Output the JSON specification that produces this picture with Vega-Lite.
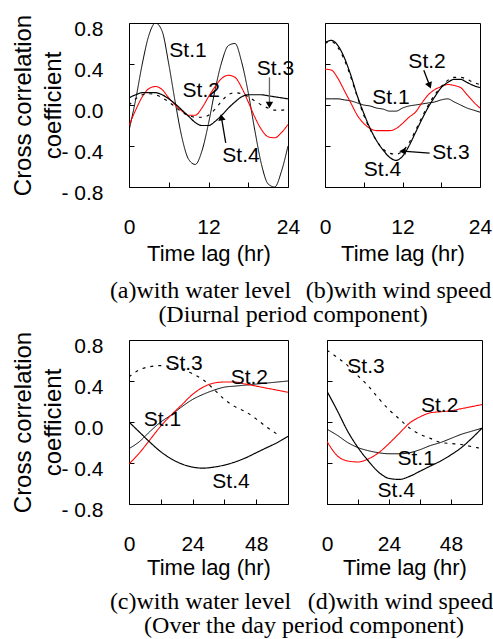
{
  "$schema": "https://vega.github.io/schema/vega-lite/v6.json",
  "background": "white",
  "padding": {"left": 10, "top": 13, "right": 0, "bottom": 0},
  "config": {
    "font": "Liberation Sans",
    "view": {"stroke": "#000", "strokeWidth": 1},
    "axis": {"grid": false, "domain": false, "tickColor": "#000", "tickSize": -5, "tickWidth": 1, "labelColor": "#000", "labelFont": "Liberation Sans", "labelFontSize": 21, "labelFlush": false, "labelOverlap": false, "labelBound": false, "titleFont": "Liberation Sans", "titleFontWeight": "normal", "titleColor": "#000"},
    "axisX": {"labelPadding": 34, "titleFontSize": 22, "titlePadding": 6},
    "axisY": {"labelPadding": 31, "labelOffset": 6, "titleFontSize": 24, "titleLineHeight": 30, "titlePadding": -4.5},
    "title": {"font": "Liberation Serif", "fontSize": 24, "fontWeight": "normal", "color": "#000", "anchor": "middle", "frame": "group"},
    "text": {"font": "Liberation Sans", "fontSize": 21, "color": "#000"}
  },
  "datasets": {
    "a": [
      {"st":"St.1","hr":0,"r":-0.25},{"st":"St.1","hr":1,"r":0.05},{"st":"St.1","hr":2,"r":0.4},{"st":"St.1","hr":3,"r":0.68},{"st":"St.1","hr":4,"r":0.8},{"st":"St.1","hr":5,"r":0.72},{"st":"St.1","hr":6,"r":0.4},{"st":"St.1","hr":7,"r":0.02},{"st":"St.1","hr":8,"r":-0.32},{"st":"St.1","hr":9,"r":-0.53},{"st":"St.1","hr":10,"r":-0.58},{"st":"St.1","hr":11,"r":-0.45},{"st":"St.1","hr":12,"r":-0.18},{"st":"St.1","hr":13,"r":0.15},{"st":"St.1","hr":14,"r":0.42},{"st":"St.1","hr":15,"r":0.58},{"st":"St.1","hr":16,"r":0.6},{"st":"St.1","hr":17,"r":0.42},{"st":"St.1","hr":18,"r":0.12},{"st":"St.1","hr":19,"r":-0.25},{"st":"St.1","hr":20,"r":-0.58},{"st":"St.1","hr":21,"r":-0.77},{"st":"St.1","hr":22,"r":-0.8},{"st":"St.1","hr":23,"r":-0.65},{"st":"St.1","hr":24,"r":-0.4},
      {"st":"St.2","hr":0,"r":-0.2},{"st":"St.2","hr":1,"r":-0.05},{"st":"St.2","hr":2,"r":0.08},{"st":"St.2","hr":3,"r":0.16},{"st":"St.2","hr":4,"r":0.18},{"st":"St.2","hr":5,"r":0.15},{"st":"St.2","hr":6,"r":0.07},{"st":"St.2","hr":7,"r":0.0},{"st":"St.2","hr":8,"r":-0.06},{"st":"St.2","hr":9,"r":-0.1},{"st":"St.2","hr":10,"r":-0.1},{"st":"St.2","hr":11,"r":-0.03},{"st":"St.2","hr":12,"r":0.08},{"st":"St.2","hr":13,"r":0.18},{"st":"St.2","hr":14,"r":0.26},{"st":"St.2","hr":15,"r":0.29},{"st":"St.2","hr":16,"r":0.27},{"st":"St.2","hr":17,"r":0.17},{"st":"St.2","hr":18,"r":0.03},{"st":"St.2","hr":19,"r":-0.12},{"st":"St.2","hr":20,"r":-0.24},{"st":"St.2","hr":21,"r":-0.31},{"st":"St.2","hr":22,"r":-0.32},{"st":"St.2","hr":23,"r":-0.27},{"st":"St.2","hr":24,"r":-0.19},
      {"st":"St.3","hr":0,"r":0.0},{"st":"St.3","hr":1,"r":0.06},{"st":"St.3","hr":2,"r":0.1},{"st":"St.3","hr":3,"r":0.11},{"st":"St.3","hr":4,"r":0.1},{"st":"St.3","hr":5,"r":0.07},{"st":"St.3","hr":6,"r":0.03},{"st":"St.3","hr":7,"r":-0.02},{"st":"St.3","hr":8,"r":-0.07},{"st":"St.3","hr":9,"r":-0.1},{"st":"St.3","hr":10,"r":-0.12},{"st":"St.3","hr":11,"r":-0.12},{"st":"St.3","hr":12,"r":-0.1},{"st":"St.3","hr":13,"r":-0.04},{"st":"St.3","hr":14,"r":0.04},{"st":"St.3","hr":15,"r":0.1},{"st":"St.3","hr":16,"r":0.12},{"st":"St.3","hr":17,"r":0.11},{"st":"St.3","hr":18,"r":0.08},{"st":"St.3","hr":19,"r":0.04},{"st":"St.3","hr":20,"r":0.0},{"st":"St.3","hr":21,"r":-0.03},{"st":"St.3","hr":22,"r":-0.05},{"st":"St.3","hr":23,"r":-0.05},{"st":"St.3","hr":24,"r":-0.04},
      {"st":"St.4","hr":0,"r":0.07},{"st":"St.4","hr":1,"r":0.1},{"st":"St.4","hr":2,"r":0.12},{"st":"St.4","hr":3,"r":0.12},{"st":"St.4","hr":4,"r":0.12},{"st":"St.4","hr":5,"r":0.1},{"st":"St.4","hr":6,"r":0.06},{"st":"St.4","hr":7,"r":0.01},{"st":"St.4","hr":8,"r":-0.05},{"st":"St.4","hr":9,"r":-0.11},{"st":"St.4","hr":10,"r":-0.17},{"st":"St.4","hr":11,"r":-0.2},{"st":"St.4","hr":12,"r":-0.2},{"st":"St.4","hr":13,"r":-0.16},{"st":"St.4","hr":14,"r":-0.1},{"st":"St.4","hr":15,"r":-0.03},{"st":"St.4","hr":16,"r":0.03},{"st":"St.4","hr":17,"r":0.08},{"st":"St.4","hr":18,"r":0.1},{"st":"St.4","hr":19,"r":0.1},{"st":"St.4","hr":20,"r":0.1},{"st":"St.4","hr":21,"r":0.09},{"st":"St.4","hr":22,"r":0.08},{"st":"St.4","hr":23,"r":0.07},{"st":"St.4","hr":24,"r":0.06}
    ],
    "b": [
      {"st":"St.1","hr":0,"r":0.06},{"st":"St.1","hr":1,"r":0.06},{"st":"St.1","hr":2,"r":0.06},{"st":"St.1","hr":3,"r":0.05},{"st":"St.1","hr":4,"r":0.04},{"st":"St.1","hr":5,"r":0.02},{"st":"St.1","hr":6,"r":0.0},{"st":"St.1","hr":7,"r":-0.01},{"st":"St.1","hr":8,"r":-0.03},{"st":"St.1","hr":9,"r":-0.04},{"st":"St.1","hr":10,"r":-0.06},{"st":"St.1","hr":11,"r":-0.06},{"st":"St.1","hr":12,"r":-0.03},{"st":"St.1","hr":13,"r":-0.01},{"st":"St.1","hr":14,"r":0.0},{"st":"St.1","hr":15,"r":0.01},{"st":"St.1","hr":16,"r":0.02},{"st":"St.1","hr":17,"r":0.03},{"st":"St.1","hr":18,"r":0.05},{"st":"St.1","hr":19,"r":0.06},{"st":"St.1","hr":20,"r":0.03},{"st":"St.1","hr":21,"r":0.0},{"st":"St.1","hr":22,"r":-0.03},{"st":"St.1","hr":23,"r":-0.05},{"st":"St.1","hr":24,"r":-0.07},
      {"st":"St.2","hr":0,"r":0.35},{"st":"St.2","hr":1,"r":0.34},{"st":"St.2","hr":2,"r":0.26},{"st":"St.2","hr":3,"r":0.14},{"st":"St.2","hr":4,"r":0.02},{"st":"St.2","hr":5,"r":-0.1},{"st":"St.2","hr":6,"r":-0.18},{"st":"St.2","hr":7,"r":-0.23},{"st":"St.2","hr":8,"r":-0.25},{"st":"St.2","hr":9,"r":-0.25},{"st":"St.2","hr":10,"r":-0.25},{"st":"St.2","hr":11,"r":-0.23},{"st":"St.2","hr":12,"r":-0.18},{"st":"St.2","hr":13,"r":-0.12},{"st":"St.2","hr":14,"r":-0.07},{"st":"St.2","hr":15,"r":0.02},{"st":"St.2","hr":16,"r":0.1},{"st":"St.2","hr":17,"r":0.15},{"st":"St.2","hr":18,"r":0.18},{"st":"St.2","hr":19,"r":0.2},{"st":"St.2","hr":20,"r":0.19},{"st":"St.2","hr":21,"r":0.17},{"st":"St.2","hr":22,"r":0.1},{"st":"St.2","hr":23,"r":0.03},{"st":"St.2","hr":24,"r":-0.03},
      {"st":"St.3","hr":0,"r":0.6},{"st":"St.3","hr":1,"r":0.62},{"st":"St.3","hr":2,"r":0.56},{"st":"St.3","hr":3,"r":0.44},{"st":"St.3","hr":4,"r":0.27},{"st":"St.3","hr":5,"r":0.08},{"st":"St.3","hr":6,"r":-0.1},{"st":"St.3","hr":7,"r":-0.24},{"st":"St.3","hr":8,"r":-0.35},{"st":"St.3","hr":9,"r":-0.43},{"st":"St.3","hr":10,"r":-0.47},{"st":"St.3","hr":11,"r":-0.48},{"st":"St.3","hr":12,"r":-0.45},{"st":"St.3","hr":13,"r":-0.37},{"st":"St.3","hr":14,"r":-0.25},{"st":"St.3","hr":15,"r":-0.12},{"st":"St.3","hr":16,"r":0.0},{"st":"St.3","hr":17,"r":0.1},{"st":"St.3","hr":18,"r":0.18},{"st":"St.3","hr":19,"r":0.24},{"st":"St.3","hr":20,"r":0.27},{"st":"St.3","hr":21,"r":0.27},{"st":"St.3","hr":22,"r":0.25},{"st":"St.3","hr":23,"r":0.22},{"st":"St.3","hr":24,"r":0.2},
      {"st":"St.4","hr":0,"r":0.61},{"st":"St.4","hr":1,"r":0.63},{"st":"St.4","hr":2,"r":0.58},{"st":"St.4","hr":3,"r":0.46},{"st":"St.4","hr":4,"r":0.29},{"st":"St.4","hr":5,"r":0.09},{"st":"St.4","hr":6,"r":-0.08},{"st":"St.4","hr":7,"r":-0.23},{"st":"St.4","hr":8,"r":-0.35},{"st":"St.4","hr":9,"r":-0.44},{"st":"St.4","hr":10,"r":-0.51},{"st":"St.4","hr":11,"r":-0.54},{"st":"St.4","hr":12,"r":-0.5},{"st":"St.4","hr":13,"r":-0.4},{"st":"St.4","hr":14,"r":-0.27},{"st":"St.4","hr":15,"r":-0.14},{"st":"St.4","hr":16,"r":-0.02},{"st":"St.4","hr":17,"r":0.08},{"st":"St.4","hr":18,"r":0.17},{"st":"St.4","hr":19,"r":0.22},{"st":"St.4","hr":20,"r":0.25},{"st":"St.4","hr":21,"r":0.25},{"st":"St.4","hr":22,"r":0.22},{"st":"St.4","hr":23,"r":0.19},{"st":"St.4","hr":24,"r":0.17}
    ],
    "c": [
      {"st":"St.1","hr":0,"r":-0.26},{"st":"St.1","hr":4,"r":-0.19},{"st":"St.1","hr":8,"r":-0.09},{"st":"St.1","hr":12,"r":0.0},{"st":"St.1","hr":16,"r":0.07},{"st":"St.1","hr":20,"r":0.15},{"st":"St.1","hr":24,"r":0.22},{"st":"St.1","hr":28,"r":0.27},{"st":"St.1","hr":32,"r":0.31},{"st":"St.1","hr":36,"r":0.34},{"st":"St.1","hr":40,"r":0.35},{"st":"St.1","hr":44,"r":0.36},{"st":"St.1","hr":48,"r":0.37},{"st":"St.1","hr":52,"r":0.38},{"st":"St.1","hr":56,"r":0.39},{"st":"St.1","hr":60,"r":0.4},
      {"st":"St.2","hr":0,"r":-0.41},{"st":"St.2","hr":4,"r":-0.3},{"st":"St.2","hr":8,"r":-0.17},{"st":"St.2","hr":12,"r":-0.04},{"st":"St.2","hr":16,"r":0.07},{"st":"St.2","hr":20,"r":0.17},{"st":"St.2","hr":24,"r":0.27},{"st":"St.2","hr":28,"r":0.34},{"st":"St.2","hr":32,"r":0.38},{"st":"St.2","hr":36,"r":0.39},{"st":"St.2","hr":40,"r":0.39},{"st":"St.2","hr":44,"r":0.37},{"st":"St.2","hr":48,"r":0.35},{"st":"St.2","hr":52,"r":0.33},{"st":"St.2","hr":56,"r":0.31},{"st":"St.2","hr":60,"r":0.29},
      {"st":"St.3","hr":0,"r":0.44},{"st":"St.3","hr":4,"r":0.51},{"st":"St.3","hr":8,"r":0.54},{"st":"St.3","hr":12,"r":0.55},{"st":"St.3","hr":16,"r":0.54},{"st":"St.3","hr":20,"r":0.51},{"st":"St.3","hr":24,"r":0.47},{"st":"St.3","hr":28,"r":0.41},{"st":"St.3","hr":32,"r":0.32},{"st":"St.3","hr":36,"r":0.22},{"st":"St.3","hr":40,"r":0.15},{"st":"St.3","hr":44,"r":0.1},{"st":"St.3","hr":48,"r":0.03},{"st":"St.3","hr":52,"r":-0.05},{"st":"St.3","hr":56,"r":-0.12},
      {"st":"St.4","hr":0,"r":0.0},{"st":"St.4","hr":4,"r":-0.1},{"st":"St.4","hr":8,"r":-0.2},{"st":"St.4","hr":12,"r":-0.29},{"st":"St.4","hr":16,"r":-0.36},{"st":"St.4","hr":20,"r":-0.41},{"st":"St.4","hr":24,"r":-0.44},{"st":"St.4","hr":28,"r":-0.45},{"st":"St.4","hr":32,"r":-0.44},{"st":"St.4","hr":36,"r":-0.42},{"st":"St.4","hr":40,"r":-0.39},{"st":"St.4","hr":44,"r":-0.35},{"st":"St.4","hr":48,"r":-0.3},{"st":"St.4","hr":52,"r":-0.25},{"st":"St.4","hr":56,"r":-0.2},{"st":"St.4","hr":60,"r":-0.14}
    ],
    "d": [
      {"st":"St.1","hr":0,"r":-0.07},{"st":"St.1","hr":4,"r":-0.13},{"st":"St.1","hr":8,"r":-0.2},{"st":"St.1","hr":12,"r":-0.25},{"st":"St.1","hr":16,"r":-0.28},{"st":"St.1","hr":20,"r":-0.3},{"st":"St.1","hr":24,"r":-0.31},{"st":"St.1","hr":28,"r":-0.31},{"st":"St.1","hr":32,"r":-0.3},{"st":"St.1","hr":36,"r":-0.27},{"st":"St.1","hr":40,"r":-0.23},{"st":"St.1","hr":44,"r":-0.2},{"st":"St.1","hr":48,"r":-0.16},{"st":"St.1","hr":52,"r":-0.12},{"st":"St.1","hr":56,"r":-0.09},{"st":"St.1","hr":60,"r":-0.06},
      {"st":"St.2","hr":0,"r":-0.19},{"st":"St.2","hr":4,"r":-0.33},{"st":"St.2","hr":8,"r":-0.38},{"st":"St.2","hr":12,"r":-0.39},{"st":"St.2","hr":16,"r":-0.36},{"st":"St.2","hr":20,"r":-0.3},{"st":"St.2","hr":24,"r":-0.21},{"st":"St.2","hr":28,"r":-0.11},{"st":"St.2","hr":32,"r":-0.01},{"st":"St.2","hr":36,"r":0.05},{"st":"St.2","hr":40,"r":0.09},{"st":"St.2","hr":44,"r":0.1},{"st":"St.2","hr":48,"r":0.11},{"st":"St.2","hr":52,"r":0.13},{"st":"St.2","hr":56,"r":0.15},{"st":"St.2","hr":60,"r":0.17},
      {"st":"St.3","hr":0,"r":0.7},{"st":"St.3","hr":4,"r":0.63},{"st":"St.3","hr":8,"r":0.55},{"st":"St.3","hr":12,"r":0.45},{"st":"St.3","hr":16,"r":0.35},{"st":"St.3","hr":20,"r":0.23},{"st":"St.3","hr":24,"r":0.12},{"st":"St.3","hr":28,"r":0.03},{"st":"St.3","hr":32,"r":-0.06},{"st":"St.3","hr":36,"r":-0.12},{"st":"St.3","hr":40,"r":-0.16},{"st":"St.3","hr":44,"r":-0.2},{"st":"St.3","hr":48,"r":-0.21},{"st":"St.3","hr":52,"r":-0.22},{"st":"St.3","hr":56,"r":-0.24},{"st":"St.3","hr":60,"r":-0.26},
      {"st":"St.4","hr":0,"r":0.3},{"st":"St.4","hr":4,"r":0.11},{"st":"St.4","hr":8,"r":-0.09},{"st":"St.4","hr":12,"r":-0.25},{"st":"St.4","hr":16,"r":-0.38},{"st":"St.4","hr":20,"r":-0.49},{"st":"St.4","hr":24,"r":-0.55},{"st":"St.4","hr":28,"r":-0.56},{"st":"St.4","hr":32,"r":-0.53},{"st":"St.4","hr":36,"r":-0.48},{"st":"St.4","hr":40,"r":-0.43},{"st":"St.4","hr":44,"r":-0.38},{"st":"St.4","hr":48,"r":-0.32},{"st":"St.4","hr":52,"r":-0.25},{"st":"St.4","hr":56,"r":-0.16},{"st":"St.4","hr":60,"r":-0.06}
    ],
    "labA": [{"t":"St.1","hr":8.9,"r":0.53},{"t":"St.2","hr":10.9,"r":0.14},{"t":"St.3","hr":22.1,"r":0.35},{"t":"St.4","hr":16.9,"r":-0.5}],
    "labB": [{"t":"St.1","hr":10.2,"r":0.07},{"t":"St.2","hr":15.8,"r":0.42},{"t":"St.3","hr":19.5,"r":-0.47},{"t":"St.4","hr":8.9,"r":-0.63}],
    "labC": [{"t":"St.3","hr":20.8,"r":0.57},{"t":"St.2","hr":45.4,"r":0.43},{"t":"St.1","hr":12.6,"r":0.02},{"t":"St.4","hr":38.5,"r":-0.59}],
    "labD": [{"t":"St.3","hr":15.1,"r":0.54},{"t":"St.2","hr":43.6,"r":0.16},{"t":"St.1","hr":34.5,"r":-0.36},{"t":"St.4","hr":26.8,"r":-0.67}]
  },
  "vconcat": [
    {
      "hconcat": [
        {
          "width": 159, "height": 164,
          "title": {"text": "(a)with water level", "orient": "bottom", "offset": 15, "dx": -8},
          "encoding": {
            "x": {"field": "hr", "type": "quantitative", "scale": {"domain": [0, 24], "nice": false}, "axis": {"values": [0, 6, 12, 18, 24], "labelExpr": "datum.value % 12 == 0 ? datum.label : ''", "title": "Time lag (hr)"}},
            "y": {"field": "r", "type": "quantitative", "scale": {"domain": [-0.8, 0.8], "nice": false}, "axis": {"values": [-0.8, -0.4, 0, 0.4, 0.8], "labelExpr": "datum.value < 0 ? '- ' + format(-datum.value, '.1f') : format(datum.value, '.1f')", "title": ["Cross correlation", "coefficient"]}}
          },
          "layer": [
            {"data": {"name": "a"}, "mark": {"type": "line", "interpolate": "monotone", "clip": true},
             "encoding": {
               "color": {"field": "st", "type": "nominal", "scale": {"domain": ["St.1", "St.2", "St.3", "St.4"], "range": ["#000000", "#ff0000", "#000000", "#000000"]}, "legend": null},
               "strokeWidth": {"field": "st", "type": "nominal", "scale": {"domain": ["St.1", "St.2", "St.3", "St.4"], "range": [1, 1.2, 2.2, 3.2]}, "legend": null},
               "strokeDash": {"field": "st", "type": "nominal", "scale": {"domain": ["St.1", "St.2", "St.3", "St.4"], "range": [[1, 0], [1, 0], [3, 5], [1, 0]]}, "legend": null}
             }},
            {"data": {"values": [{"hr": 21.2, "r": 0.27, "hr2": 21.2, "r2": 0.0}]}, "mark": {"type": "rule", "color": "#666", "strokeWidth": 1.3}, "encoding": {"x2": {"field": "hr2"}, "y2": {"field": "r2"}}},
            {"data": {"values": [{"hr": 21.2, "r": 0.0}]}, "mark": {"type": "point", "shape": "triangle-down", "filled": true, "color": "#000", "opacity": 1, "size": 55}, "encoding": {}},
            {"data": {"values": [{"hr": 14.6, "r": -0.37, "hr2": 13.95, "r2": -0.12}]}, "mark": {"type": "rule", "color": "#000", "strokeWidth": 1.3}, "encoding": {"x2": {"field": "hr2"}, "y2": {"field": "r2"}}},
            {"data": {"values": [{"hr": 13.95, "r": -0.12}]}, "mark": {"type": "point", "shape": "triangle-up", "angle": -10, "filled": true, "color": "#000", "opacity": 1, "size": 55}, "encoding": {}},
            {"data": {"name": "labA"}, "mark": {"type": "text"}, "encoding": {"text": {"field": "t"}}}
          ]
        },
        {
          "width": 155, "height": 164,
          "title": {"text": "(b)with wind speed", "orient": "bottom", "offset": 15, "dx": -4},
          "encoding": {
            "x": {"field": "hr", "type": "quantitative", "scale": {"domain": [0, 24], "nice": false}, "axis": {"values": [0, 6, 12, 18, 24], "labelExpr": "datum.value % 12 == 0 ? datum.label : ''", "title": "Time lag (hr)"}},
            "y": {"field": "r", "type": "quantitative", "scale": {"domain": [-0.8, 0.8], "nice": false}, "axis": {"values": [-0.8, -0.4, 0, 0.4, 0.8], "labels": false, "title": null}}
          },
          "layer": [
            {"data": {"name": "b"}, "mark": {"type": "line", "interpolate": "monotone", "clip": true},
             "encoding": {
               "color": {"field": "st", "type": "nominal", "scale": {"domain": ["St.1", "St.2", "St.3", "St.4"], "range": ["#000000", "#ff0000", "#000000", "#000000"]}, "legend": null},
               "strokeWidth": {"field": "st", "type": "nominal", "scale": {"domain": ["St.1", "St.2", "St.3", "St.4"], "range": [1, 1.2, 2.2, 3.2]}, "legend": null},
               "strokeDash": {"field": "st", "type": "nominal", "scale": {"domain": ["St.1", "St.2", "St.3", "St.4"], "range": [[1, 0], [1, 0], [3, 5], [1, 0]]}, "legend": null}
             }},
            {"data": {"values": [{"hr": 15.3, "r": 0.34, "hr2": 16.2, "r2": 0.19}]}, "mark": {"type": "rule", "color": "#000", "strokeWidth": 1.3}, "encoding": {"x2": {"field": "hr2"}, "y2": {"field": "r2"}}},
            {"data": {"values": [{"hr": 16.2, "r": 0.19}]}, "mark": {"type": "point", "shape": "triangle-down", "angle": -22, "filled": true, "color": "#000", "opacity": 1, "size": 55}, "encoding": {}},
            {"data": {"values": [{"hr": 16.2, "r": -0.47, "hr2": 12.0, "r2": -0.45}]}, "mark": {"type": "rule", "color": "#000", "strokeWidth": 1.3}, "encoding": {"x2": {"field": "hr2"}, "y2": {"field": "r2"}}},
            {"data": {"values": [{"hr": 12.0, "r": -0.45}]}, "mark": {"type": "point", "shape": "triangle-left", "filled": true, "color": "#000", "opacity": 1, "size": 55}, "encoding": {}},
            {"data": {"name": "labB"}, "mark": {"type": "text"}, "encoding": {"text": {"field": "t"}}}
          ]
        }
      ],
      "spacing": 37,
      "bounds": "flush",
      "title": {"text": "(Diurnal period component)", "orient": "bottom", "offset": -1, "dx": 164}
    },
    {
      "hconcat": [
        {
          "width": 159, "height": 164,
          "title": {"text": "(c)with water level", "orient": "bottom", "offset": 12, "dx": -8},
          "encoding": {
            "x": {"field": "hr", "type": "quantitative", "scale": {"domain": [0, 60], "nice": false}, "axis": {"values": [0, 12, 24, 36, 48, 60], "labelExpr": "datum.value % 24 == 0 && datum.value < 60 ? datum.label : ''", "title": "Time lag (hr)", "titlePadding": 3}},
            "y": {"field": "r", "type": "quantitative", "scale": {"domain": [-0.8, 0.8], "nice": false}, "axis": {"values": [-0.8, -0.4, 0, 0.4, 0.8], "labelExpr": "datum.value < 0 ? '- ' + format(-datum.value, '.1f') : format(datum.value, '.1f')", "title": ["Cross correlation", "coefficient"]}}
          },
          "layer": [
            {"data": {"name": "c"}, "mark": {"type": "line", "interpolate": "monotone", "clip": true},
             "encoding": {
               "color": {"field": "st", "type": "nominal", "scale": {"domain": ["St.1", "St.2", "St.3", "St.4"], "range": ["#000000", "#ff0000", "#000000", "#000000"]}, "legend": null},
               "strokeWidth": {"field": "st", "type": "nominal", "scale": {"domain": ["St.1", "St.2", "St.3", "St.4"], "range": [1, 1.2, 2.2, 3.2]}, "legend": null},
               "strokeDash": {"field": "st", "type": "nominal", "scale": {"domain": ["St.1", "St.2", "St.3", "St.4"], "range": [[1, 0], [1, 0], [3, 5], [1, 0]]}, "legend": null}
             }},
            {"data": {"name": "labC"}, "mark": {"type": "text"}, "encoding": {"text": {"field": "t"}}}
          ]
        },
        {
          "width": 155, "height": 164,
          "title": {"text": "(d)with wind speed", "orient": "bottom", "offset": 12, "dx": -4},
          "encoding": {
            "x": {"field": "hr", "type": "quantitative", "scale": {"domain": [0, 60], "nice": false}, "axis": {"values": [0, 12, 24, 36, 48, 60], "labelExpr": "datum.value % 24 == 0 && datum.value < 60 ? datum.label : ''", "title": "Time lag (hr)", "titlePadding": 3}},
            "y": {"field": "r", "type": "quantitative", "scale": {"domain": [-0.8, 0.8], "nice": false}, "axis": {"values": [-0.8, -0.4, 0, 0.4, 0.8], "labels": false, "title": null}}
          },
          "layer": [
            {"data": {"name": "d"}, "mark": {"type": "line", "interpolate": "monotone", "clip": true},
             "encoding": {
               "color": {"field": "st", "type": "nominal", "scale": {"domain": ["St.1", "St.2", "St.3", "St.4"], "range": ["#000000", "#ff0000", "#000000", "#000000"]}, "legend": null},
               "strokeWidth": {"field": "st", "type": "nominal", "scale": {"domain": ["St.1", "St.2", "St.3", "St.4"], "range": [1, 1.2, 2.2, 3.2]}, "legend": null},
               "strokeDash": {"field": "st", "type": "nominal", "scale": {"domain": ["St.1", "St.2", "St.3", "St.4"], "range": [[1, 0], [1, 0], [3, 5], [1, 0]]}, "legend": null}
             }},
            {"data": {"name": "labD"}, "mark": {"type": "text"}, "encoding": {"text": {"field": "t"}}}
          ]
        }
      ],
      "spacing": 39,
      "bounds": "flush",
      "title": {"text": "(Over the day period component)", "orient": "bottom", "offset": -1, "dx": 175}
    }
  ],
  "spacing": 317,
  "bounds": "flush"
}
